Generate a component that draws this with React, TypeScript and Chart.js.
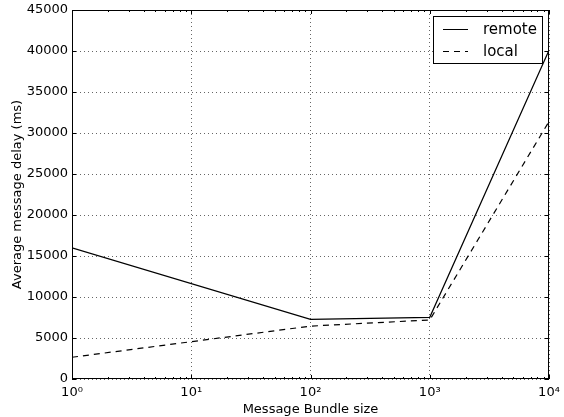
import React, { useEffect, useRef } from "react";
import { Chart, registerables } from "chart.js";

Chart.register(...registerables);

const bundleSizes = [1, 100, 1000, 10000];
const remoteDelay = [16000, 7280, 7520, 40100];
const localDelay = [2650, 6450, 7200, 31400];
const yTicks = [0, 5000, 10000, 15000, 20000, 25000, 30000, 35000, 40000, 45000];
const xMajor = [1, 10, 100, 1000, 10000];
const xMajorLabels = ["10\u2070", "10\u00B9", "10\u00B2", "10\u00B3", "10\u2074"];
const seriesNames = ["remote", "local"];

const FONT = "'DejaVu Sans', sans-serif";

const isMajor = (v: number) => xMajor.includes(v);

const framePlugin = {
  id: "frame",
  afterDatasetsDraw(chart: any) {
    const { ctx, chartArea: a, scales } = chart;
    const xs = scales.x;
    const ys = scales.y;
    ctx.save();
    ctx.strokeStyle = "#000";
    ctx.lineWidth = 1;
    ctx.setLineDash([]);
    ctx.strokeRect(a.left + 0.5, a.top + 0.5, a.right - a.left - 1, a.bottom - a.top - 1);
    ctx.beginPath();
    for (let d = 0; d < 4; d++) {
      const base = Math.pow(10, d);
      for (let m = 1; m <= 10; m++) {
        const v = base * m;
        const px = Math.round(xs.getPixelForValue(v)) + 0.5;
        const len = m === 1 || m === 10 ? 4 : 2;
        ctx.moveTo(px, a.bottom);
        ctx.lineTo(px, a.bottom - len);
        ctx.moveTo(px, a.top);
        ctx.lineTo(px, a.top + len);
      }
    }
    yTicks.forEach((v) => {
      const py = Math.round(ys.getPixelForValue(v)) + 0.5;
      ctx.moveTo(a.left, py);
      ctx.lineTo(a.left + 4, py);
      ctx.moveTo(a.right, py);
      ctx.lineTo(a.right - 4, py);
    });
    ctx.stroke();
    ctx.restore();
  },
  afterDraw(chart: any) {
    const { ctx, chartArea: a } = chart;
    ctx.save();
    const bw = 109;
    const bh = 47;
    const bx = a.right - 7 - bw;
    const by = a.top + 6;
    ctx.fillStyle = "#fff";
    ctx.fillRect(bx, by, bw, bh);
    ctx.strokeStyle = "#000";
    ctx.lineWidth = 1;
    ctx.setLineDash([]);
    ctx.strokeRect(Math.round(bx) + 0.5, Math.round(by) + 0.5, bw, bh);
    const rows = [by + 13, by + 35];
    ctx.font = `15px ${FONT}`;
    ctx.textBaseline = "middle";
    ctx.fillStyle = "#000";
    seriesNames.forEach((name, i) => {
      ctx.beginPath();
      ctx.setLineDash(i === 0 ? [] : [6, 5]);
      ctx.moveTo(bx + 10, Math.round(rows[i]) + 0.5);
      ctx.lineTo(bx + 35, Math.round(rows[i]) + 0.5);
      ctx.stroke();
      ctx.setLineDash([]);
      ctx.fillText(name, bx + 50, rows[i] + 1);
    });
    ctx.restore();
  },
};

export default function App() {
  const canvasRef = useRef<HTMLCanvasElement | null>(null);

  useEffect(() => {
    const canvas = canvasRef.current;
    if (!canvas) return;
    const chart = new Chart(canvas, {
      type: "line",
      data: {
        datasets: [
          {
            label: seriesNames[0],
            data: bundleSizes.map((x, i) => ({ x, y: remoteDelay[i] })),
            borderColor: "#000",
            borderWidth: 1.2,
            pointRadius: 0,
            fill: false,
            tension: 0,
          },
          {
            label: seriesNames[1],
            data: bundleSizes.map((x, i) => ({ x, y: localDelay[i] })),
            borderColor: "#000",
            borderWidth: 1.2,
            borderDash: [6, 5],
            pointRadius: 0,
            fill: false,
            tension: 0,
          },
        ],
      },
      options: {
        animation: false,
        responsive: false,
        maintainAspectRatio: false,
        layout: { padding: { left: 0, top: 10, right: 15, bottom: 0 } },
        plugins: {
          legend: { display: false },
          tooltip: { enabled: false },
        },
        scales: {
          x: {
            type: "logarithmic",
            min: 1,
            max: 10000,
            afterFit(scale: any) {
              scale.height = 38;
              scale.paddingLeft = 0;
              scale.paddingRight = 0;
            },
            afterBuildTicks(scale: any) {
              const t: any[] = [];
              for (let d = 0; d < 4; d++) {
                for (let m = 1; m < 10; m++) t.push({ value: Math.pow(10, d) * m });
              }
              t.push({ value: 10000 });
              scale.ticks = t;
            },
            ticks: {
              autoSkip: false,
              maxRotation: 0,
              minRotation: 0,
              padding: 6,
              color: "#000",
              font: { family: FONT, size: 13 },
              callback: (v: any) => {
                const idx = xMajor.indexOf(Number(v));
                return idx >= 0 ? xMajorLabels[idx] : "";
              },
            },
            grid: {
              drawTicks: false,
              color: (ctx: any) =>
                ctx.tick && isMajor(ctx.tick.value) ? "rgba(0,0,0,0.6)" : "rgba(0,0,0,0)",
              lineWidth: 1,
            },
            border: { display: false, dash: [1, 3] },
            title: {
              display: true,
              text: "Message Bundle size",
              color: "#000",
              font: { family: FONT, size: 13 },
              padding: { top: 0, bottom: 0 },
            },
          },
          y: {
            min: 0,
            max: 45000,
            afterFit(scale: any) {
              scale.width = 72;
              scale.paddingTop = 0;
              scale.paddingBottom = 0;
            },
            afterBuildTicks(scale: any) {
              scale.ticks = yTicks.map((v) => ({ value: v }));
            },
            ticks: {
              autoSkip: false,
              padding: 4,
              color: "#000",
              font: { family: FONT, size: 13 },
              callback: (v: any) => String(v),
            },
            grid: {
              drawTicks: false,
              color: "rgba(0,0,0,0.6)",
              lineWidth: 1,
            },
            border: { display: false, dash: [1, 3] },
            title: {
              display: true,
              text: "Average message delay (ms)",
              color: "#000",
              font: { family: FONT, size: 13 },
              padding: { top: 10, bottom: 0 },
            },
          },
        },
      },
      plugins: [framePlugin],
    } as any);
    return () => chart.destroy();
  }, []);

  return (
    <div style={{ position: "fixed", left: 0, top: 0, width: 564, height: 417, background: "#fff" }}>
      <canvas ref={canvasRef} width={564} height={417} style={{ display: "block", width: 564, height: 417 }} />
    </div>
  );
}
